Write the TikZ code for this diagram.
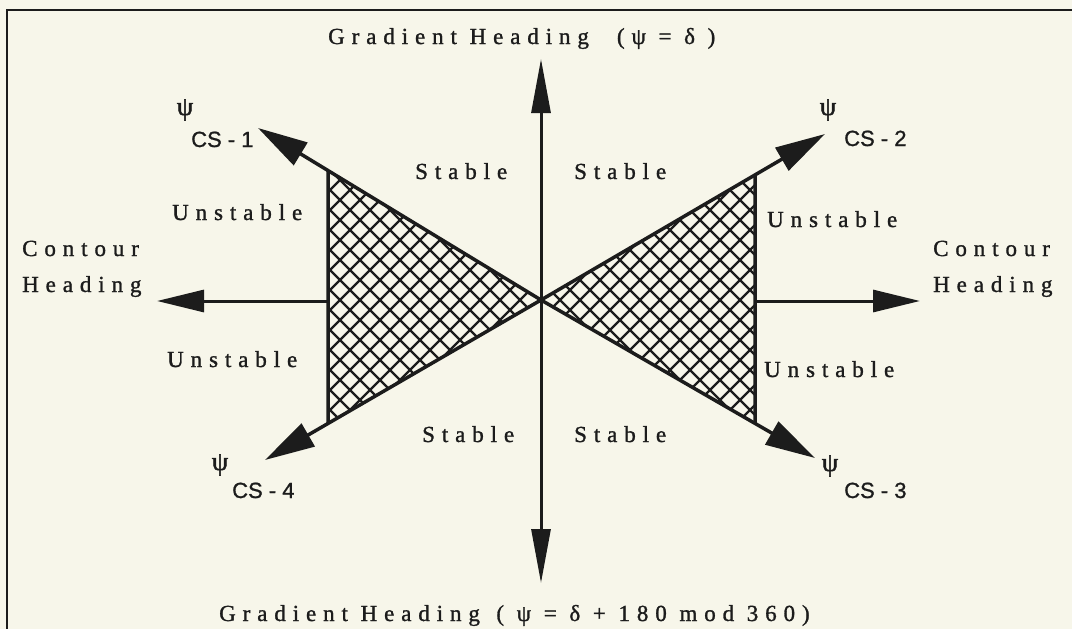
\documentclass[tikz,border=0pt]{standalone}
\usepackage{fontspec}
\setmainfont{Liberation Serif}
\newfontfamily\spaced[LetterSpace=30,FakeBold=1.2]{Liberation Serif}
\newfontfamily\csfont[FakeBold=1]{Liberation Sans}
\newfontfamily\psifont[FakeBold=2]{Liberation Serif}
\usetikzlibrary{arrows.meta}
\definecolor{paper}{RGB}{247,246,234}
\definecolor{ink}{RGB}{28,28,28}

\begin{document}
\begin{tikzpicture}[x=1pt,y=-1pt,
  axis/.style={ink,line width=3pt,-{Triangle[length=47pt,width=22pt]}},
  vaxis/.style={ink,line width=3pt,-{Triangle[length=54pt,width=19pt]}},
  diag/.style={ink,line width=3.5pt,-{Triangle[length=50pt,width=26pt]}},
  lbl/.style={ink,font=\spaced\fontsize{23}{36}\selectfont,inner sep=0pt},
  cs/.style={ink,font=\csfont\fontsize{22}{24}\selectfont,inner sep=0pt},
  psi/.style={ink,font=\psifont\fontsize{26}{28}\selectfont,inner sep=0pt}]
\fill[paper] (0,0) rectangle (1072,629);
\useasboundingbox (0,0) rectangle (1072,629);
% frame (only top and left edge show)
\draw[ink,line width=2.5pt] (7,629) -- (7,10) -- (1072,10);

\coordinate (o) at (541,300);
\coordinate (north) at (541,59);
\coordinate (south) at (541,583);
\coordinate (west) at (157,301);
\coordinate (east) at (920,301);
\coordinate (cs1) at (258,128);
\coordinate (cs2) at (825,134);
\coordinate (cs3) at (815,458);
\coordinate (cs4) at (265,460);
\coordinate (lt) at (328,0);
\coordinate (lb) at (328,629);
\coordinate (rt) at (755,0);
\coordinate (rb) at (755,629);
\coordinate (tl) at (intersection of o--cs1 and lt--lb);
\coordinate (bl) at (intersection of o--cs4 and lt--lb);
\coordinate (tr) at (intersection of o--cs2 and rt--rb);
\coordinate (br) at (intersection of o--cs3 and rt--rb);

% cross hatched wedges
\begin{scope}
\clip (o) -- (tl) -- (bl) -- cycle (o) -- (tr) -- (br) -- cycle;
\foreach \k in {-8,...,64}
  \draw[ink,line width=2.2pt] (\k*20,0) -- ++(640,640) (\k*20,0) -- ++(-640,640);
\end{scope}
\draw[ink,line width=3.5pt] (tl) -- (bl) (tr) -- (br);

\draw[vaxis] (o) -- (north);
\draw[vaxis] (o) -- (south);
\draw[axis] (tl|-west) -- (west);
\draw[axis] (tr|-east) -- (east);
\draw[diag] (o) -- (cs1);
\draw[diag] (o) -- (cs2);
\draw[diag] (o) -- (cs3);
\draw[diag] (o) -- (cs4);

\node[lbl,anchor=base west] (gtop) at (328,44) {Gradient Heading\hspace{28pt}(ψ = δ )};
\node[lbl,anchor=base west] (gbot) at (219,621) {Gradient Heading \,( ψ = δ + 180 mod 360)};

\node[lbl,anchor=base west] (st1) at (415,179) {Stable};
\node[lbl,anchor=base west] (st2) at (574,179) {Stable};
\node[lbl,anchor=base west] (st3) at (422,442) {Stable};
\node[lbl,anchor=base west] (st4) at (574,442) {Stable};
\node[lbl,anchor=base west] (un1) at (172,220) {Unstable};
\node[lbl,anchor=base west] (un2) at (767,227) {Unstable};
\node[lbl,anchor=base west] (un3) at (167,367) {Unstable};
\node[lbl,anchor=base west] (un4) at (764,377) {Unstable};
\node[lbl,anchor=base west,align=left] (chl) at (22,292) {Contour\\Heading};
\node[lbl,anchor=base west,align=left] (chr) at (933,292) {Contour\\Heading};

\node[psi] (p1) at (185,110) {ψ};
\node[psi] (p2) at (828,110) {ψ};
\node[psi] (p3) at (830,466) {ψ};
\node[psi] (p4) at (220,465) {ψ};
\node[cs,anchor=base west] (c1) at (191,147) {CS - 1};
\node[cs,anchor=base west] (c2) at (844,146) {CS - 2};
\node[cs,anchor=base west] (c3) at (844,498) {CS - 3};
\node[cs,anchor=base west] (c4) at (232,498) {CS - 4};
\end{tikzpicture}
\end{document}
